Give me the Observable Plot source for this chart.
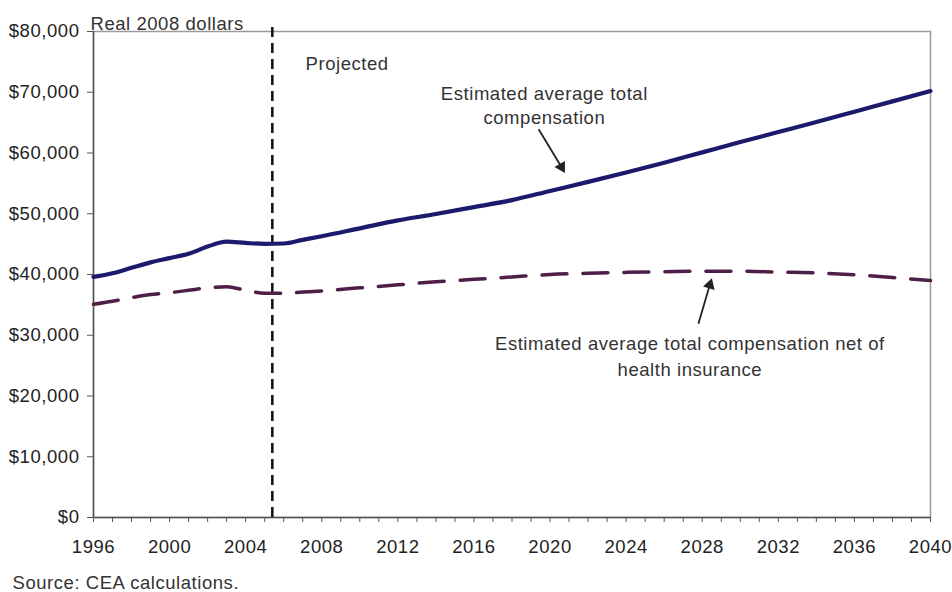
<!DOCTYPE html>
<html>
<head>
<meta charset="utf-8">
<script src="https://cdn.jsdelivr.net/npm/d3@7"></script>
<script src="https://cdn.jsdelivr.net/npm/@observablehq/plot@0.6"></script>
<style>
  html, body { margin: 0; padding: 0; background: #fff; }
  #chart { width: 952px; height: 592px; }
</style>
</head>
<body>
<div id="chart"></div>
<script>
// ---- data ----
const years = [1996,1997,1998,1999,2000,2001,2002,2003,2004,2005,2006,2007,2008,2010,2012,2014,2016,2018,2020,2022,2024,2026,2028,2030,2032,2034,2036,2038,2040];
const totalComp = [39600,40200,41100,42000,42700,43400,44600,45400,45200,45050,45100,45700,46300,47600,48900,49950,51100,52250,53750,55250,56800,58400,60100,61800,63450,65100,66800,68500,70200];
const netComp = [35100,35600,36200,36700,37000,37400,37800,38000,37400,36900,36900,37100,37300,37800,38300,38800,39200,39600,40000,40200,40350,40450,40550,40550,40400,40250,39950,39500,39000];
const projectedYear = [2005.4];
const yTicks = [0,10000,20000,30000,40000,50000,60000,70000,80000];
const xTicks = d3.range(1996, 2041, 1);
const xLabelYears = [1996,2000,2004,2008,2012,2016,2020,2024,2028,2032,2036,2040];

const labels = [
  {x: 2019.7, y: 68000, text: "Estimated average total\ncompensation"},
  {x: 2027.35, y: 26800, text: "Estimated average total compensation net of\nhealth insurance"},
  {x: 2007.15, y: 74700, text: "Projected"}
];
const arrows = [
  {x1: 2019.4, y1: 63900, x2: 2020.6, y2: 57700, angle: 150},
  {x1: 2027.8, y1: 31900, x2: 2028.4, y2: 38300, angle: 17}
];

const totalData = years.map((yr, i) => ({year: yr, value: totalComp[i]}));
const netData = years.map((yr, i) => ({year: yr, value: netComp[i]}));

const chart = Plot.plot({
  width: 952,
  height: 592,
  marginTop: 31,
  marginRight: 22,
  marginBottom: 75,
  marginLeft: 93,
  style: {fontFamily: "'Liberation Sans', Arial, sans-serif", fontSize: "18.5px", color: "#222", background: "#fff", letterSpacing: "0.55px"},
  x: {domain: [1996, 2040]},
  y: {domain: [0, 80000]},
  marks: [
    Plot.frame({stroke: "#9a9a9a", strokeWidth: 1.5}),
    Plot.axisY({ticks: yTicks, tickFormat: d => "$" + d3.format(",")(d), tickSize: 6, tickPadding: 8, stroke: "#555", fill: "#222", label: null}),
    Plot.axisX({ticks: xTicks, tickFormat: d => xLabelYears.includes(d) ? String(d) : "", tickSize: 5, tickPadding: 17, stroke: "#555", fill: "#222", label: null}),
    Plot.ruleX([1996], {stroke: "#555", strokeWidth: 1.5}),
    Plot.ruleY([0], {stroke: "#555", strokeWidth: 1.5}),
    Plot.ruleX(projectedYear, {stroke: "#111", strokeWidth: 2.5, strokeDasharray: "10,6", y1: 0, y2: 80000, insetBottom: 6}),
    Plot.line(netData, {x: "year", y: "value", stroke: "#4e1f48", strokeWidth: 3.5, strokeDasharray: "25,16", curve: "monotone-x"}),
    Plot.line(totalData, {x: "year", y: "value", stroke: "#1b1a6c", strokeWidth: 4.2, curve: "monotone-x"}),
    Plot.text(labels.slice(0, 1), {x: "x", y: "y", text: "text", textAnchor: "middle", lineAnchor: "middle", lineHeight: 1.27, fill: "#333"}),
    Plot.text(labels.slice(1, 2), {x: "x", y: "y", text: "text", textAnchor: "middle", lineAnchor: "middle", lineHeight: 1.42, fill: "#333"}),
    Plot.text(labels.slice(2), {x: "x", y: "y", text: "text", textAnchor: "start", fill: "#333"}),
    Plot.link(arrows, {x1: "x1", y1: "y1", x2: "x2", y2: "y2", stroke: "#222", strokeWidth: 1.8}),
    Plot.dot(arrows, {x: "x2", y: "y2", symbol: "triangle", r: 4.5, fill: "#222", stroke: "none", rotate: "angle"}),
    Plot.text(["Real 2008 dollars"], {frameAnchor: "top-left", textAnchor: "start", lineAnchor: "bottom", dx: -3, dy: -2, fill: "#333"}),
    Plot.text(["Source: CEA calculations."], {frameAnchor: "bottom-left", textAnchor: "start", lineAnchor: "middle", dx: -81, dy: 66, fill: "#333"})
  ]
});
document.getElementById("chart").appendChild(chart);
</script>
</body>
</html>
